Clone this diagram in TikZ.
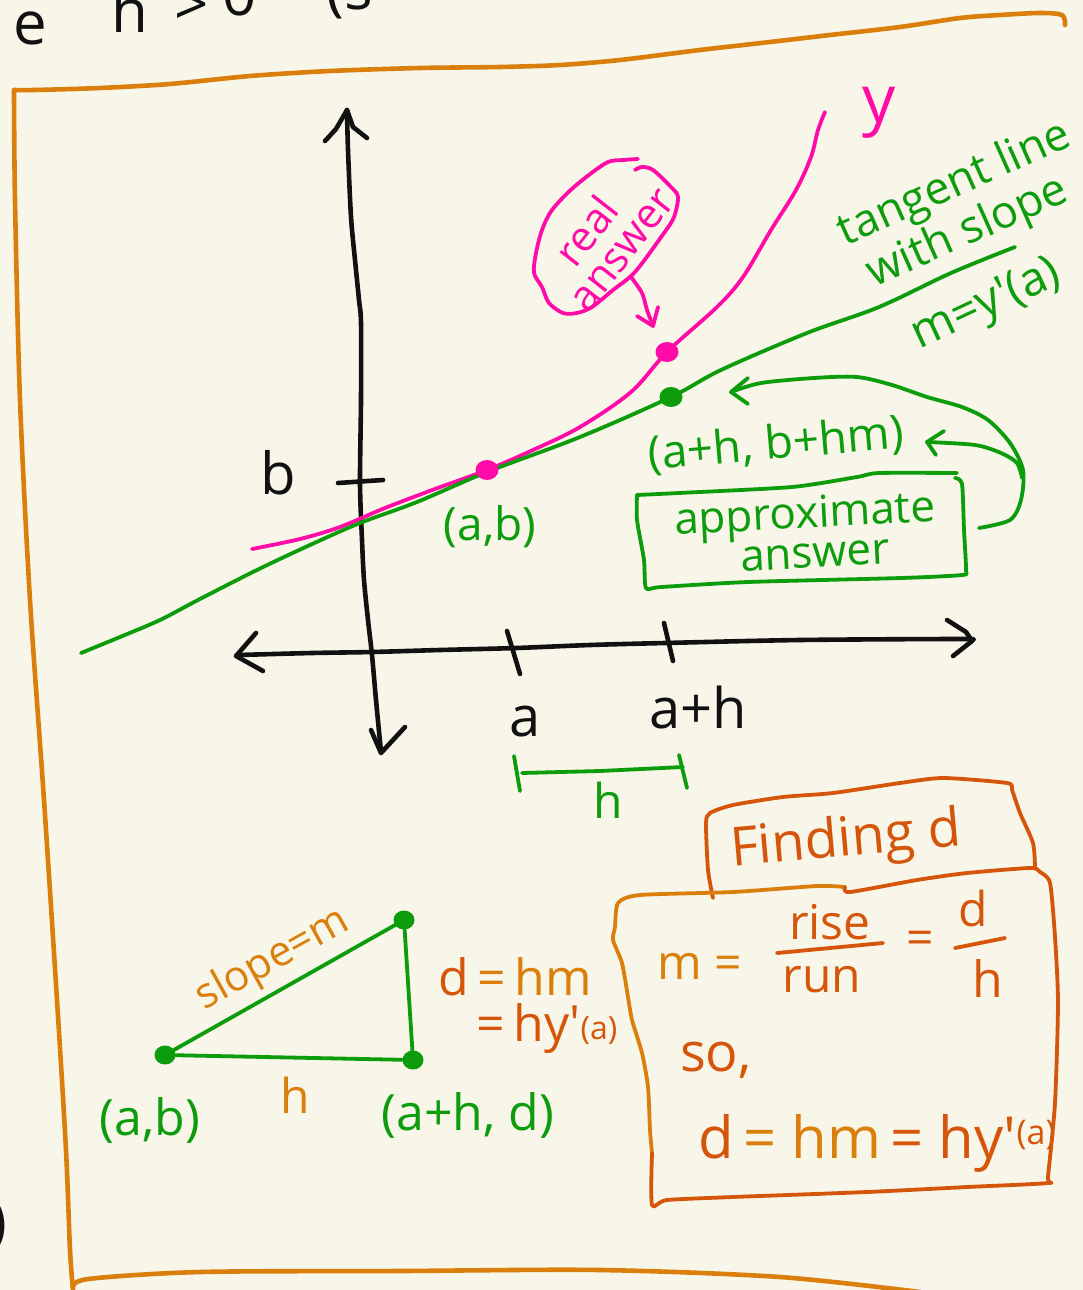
\documentclass[tikz,border=0pt]{standalone}
\usepackage{fontspec}
\setmainfont{Open Sans}
\usetikzlibrary{shapes.geometric}
\definecolor{paper}{HTML}{F8F5E9}
\definecolor{frame}{HTML}{DB7F0C}
\definecolor{rust}{HTML}{D5550B}
\definecolor{pinkc}{HTML}{FF0CA8}
\definecolor{greenc}{HTML}{0C9C0C}
\definecolor{ink}{HTML}{111111}
\newcommand{\fsz}[1]{\fontsize{#1}{#1}\selectfont}
\begin{document}
\begin{tikzpicture}[x=1pt,y=-1pt,line cap=round,line join=round,
  pen/.style={line width=3.8pt},
  heavypen/.style={line width=4.6pt},
  lbl/.style={inner sep=0pt,outer sep=0pt},
  spot/.style={ellipse,fill,inner sep=0pt,minimum width=23pt,minimum height=20pt}]
\fill[paper] (0,0) rectangle (1083,1290);
\useasboundingbox (0,0) rectangle (1083,1290);

% ---- cut-off text at top-left and left edge
\node[lbl,text=ink,font=\fsz{60},anchor=base] (t1) at (30,45) {e};
\node[lbl,text=ink,font=\fsz{60},anchor=base] (t2) at (130,33) {h};
\node[lbl,text=ink,font=\fsz{60},anchor=base] (t3) at (192,26) {>};
\node[lbl,text=ink,font=\fsz{60},anchor=base] (t4) at (240,16) {0};
\node[lbl,text=ink,font=\fsz{60},anchor=base] (t5) at (350,10) {(s};
\node[lbl,text=ink,font=\fsz{60}] (t6) at (-2,1226) {)};

% ---- orange frame
\draw[frame,heavypen] plot[smooth,tension=0.5] coordinates {(1065,25) (1062,15) (1040,13) (1000,15) (960,18) (900,27) (830,35) (770,42) (700,50) (620,60) (560,65) (500,67) (420,68) (330,71) (250,76) (170,84) (100,88) (35,90) (14,90)};
\draw[frame,heavypen] plot[smooth,tension=0.5] coordinates {(14,90) (15,200) (20,400) (30,600) (44,800) (57,1000) (66,1150) (70,1250) (73,1290)};
\draw[frame,heavypen] plot[smooth,tension=0.5] coordinates {(73,1288) (88,1279) (200,1272) (400,1271) (600,1270) (780,1277) (920,1292)};

% ---- axes
\draw[ink,heavypen] plot[smooth,tension=0.5] coordinates {(347,110) (348,150) (351,217) (355,260) (359,300) (361,323) (361,400) (360,483) (362,540) (364,580) (368,620) (372,655) (376,700) (381,752)};
\coordinate (ytip) at (347,110);
\draw[ink,heavypen] (325,141) -- (336,129) -- (ytip) -- (353,127) -- (367,138);
\coordinate (ybot) at (381,753);
\draw[ink,heavypen] (371,730) -- (ybot) -- (405,727);
\draw[ink,heavypen] plot[smooth,tension=0.5] coordinates {(238,655) (312,653) (372,652) (440,650) (516,648) (590,645) (665,643) (800,640) (959,639) (971,640)};
\coordinate (xl) at (236,656);
\coordinate (xr) at (972,641);
\draw[ink,heavypen] (256,633) -- (xl) -- (263,671);
\draw[ink,heavypen] (947,620) -- (966,632) -- (xr) -- (953,656);
\draw[ink,heavypen] (507,631) -- (520,674);
\draw[ink,heavypen] (664,623) -- (673,661);
\draw[ink,heavypen] (338,483) -- (383,480);
\node[lbl,text=ink,font=\fsz{56}] (la) at (525,722) {a};
\node[lbl,text=ink,font=\fsz{56}] (lah) at (698,707) {a+h};
\node[lbl,text=ink,font=\fsz{58}] (lb) at (278,473) {b};

% ---- curve y and tangent line
\draw[pinkc,pen] plot[smooth,tension=0.55] coordinates {(252,549) (300,539) (340,527) (385,508) (435,489) (487,470) (533,450) (580,427) (631,392) (667,352) (717,307) (743,277) (771,230) (796,190) (811,157) (818,130) (825,112)};
\draw[greenc,pen] plot[smooth,tension=0.55] coordinates {(81,653) (120,637) (160,620) (198,600) (257,570) (310,545) (360,523) (417,502) (487,472) (580,437) (671,397) (721,370) (807,333) (879,307) (951,273) (1015,247)};
\node[spot,fill=pinkc] (pab) at (487,470) {};
\node[spot,fill=pinkc] (preal) at (667,352) {};
\node[spot,fill=greenc] (gappr) at (671,397) {};
\node[lbl,text=pinkc,font=\fsz{66}] (ly) at (879,113) {y};

% ---- tangent line label
\node[lbl,text=greenc,font=\fsz{45},rotate=24] (tl1) at (955,185) {tangent line};
\node[lbl,text=greenc,font=\fsz{45},rotate=24] (tl2) at (968,233) {with slope};
\node[lbl,text=greenc,font=\fsz{47},rotate=25] (tl3) at (987,306) {m=y\textquotesingle(a)};

% ---- real answer bubble
\draw[pinkc,pen] plot[smooth,tension=0.5] coordinates {(638,159) (624,160) (606,163) (574,187) (552,210) (542,230) (536,253) (534,273) (542,287) (549,303) (563,313) (577,313) (592,307) (613,290) (635,272) (664,233) (674,217) (678,197) (671,187) (653,170) (642,167) (635,170)};
\node[lbl,text=pinkc,font=\fontsize{42}{38}\selectfont,rotate=52,align=center] (ra) at (601,242) {real\\\hspace*{14pt}answer};
\coordinate (ratail) at (631,277);
\coordinate (ratip) at (653,326);
\draw[pinkc,pen] plot[smooth,tension=0.5] coordinates {(ratail) (642,293) (647,310) (ratip)};
\draw[pinkc,pen] (637,316) -- (ratip) -- (658,307);

% ---- approximate answer
\node[lbl,text=greenc,font=\fsz{46},rotate=5] (lapp) at (776,445) {(a+h, b+hm)};
\node[lbl,text=greenc,font=\fsz{46}] (lab) at (490,527) {(a,b)};
\draw[greenc,pen] plot[smooth,tension=0.4] coordinates {(637,495) (679,493) (792,487) (857,477) (879,473) (957,473)};
\draw[greenc,pen] plot[smooth,tension=0.4] coordinates {(955,478) (962,484) (964,530) (966,570) (962,575) (901,578) (748,582) (661,587) (646,588) (644,560) (637,520) (637,495)};
\node[lbl,text=greenc,font=\fontsize{44}{40}\selectfont,rotate=3,align=center] (apx) at (806,532) {approximate\\\hspace*{16pt}answer};
\coordinate (bxr) at (979,528);
\coordinate (tipA) at (731,392);
\coordinate (tipB) at (927,442);
\draw[greenc,pen] plot[smooth,tension=0.5] coordinates {(bxr) (1010,520) (1021,500) (1023,470) (1010,443) (988,420) (962,407) (927,397) (892,385) (857,377) (814,378) (761,383) (tipA)};
\draw[greenc,pen] (748,378) -- (tipA) -- (748,404);
\draw[greenc,pen] plot[smooth,tension=0.5] coordinates {(1022,478) (1017,463) (1001,453) (975,445) (tipB)};
\draw[greenc,pen] (944,431) -- (tipB) -- (936,455);

% ---- h bracket
\draw[greenc,pen] (514,756) -- (520,791);
\draw[greenc,pen] (522,773) -- (600,771) -- (683,767);
\draw[greenc,pen] (679,755) -- (687,788);
\node[lbl,text=greenc,font=\fsz{48}] (hb) at (608,800) {h};

% ---- Finding d box
\draw[rust,pen] plot[smooth,tension=0.4] coordinates {(713,898) (708,870) (706,823) (710,813) (733,805) (783,797) (833,793) (900,783) (943,778) (1007,783) (1012,790) (1020,813) (1033,843) (1035,867)};
\node[lbl,text=rust,font=\fsz{54},rotate=5] (fd) at (846,842) {Finding d};
\draw[frame,pen] plot[smooth,tension=0.4] coordinates {(845,887) (817,886) (733,892) (640,895) (618,903) (615,927) (613,940) (622,963) (628,997) (632,1020) (642,1053) (648,1087) (650,1130) (652,1153)};
\draw[rust,pen] plot[smooth,tension=0.4] coordinates {(652,1153) (652,1205) (667,1200) (733,1197) (867,1192) (967,1187) (1048,1183) (1048,1177) (1055,1103) (1058,1003) (1055,937) (1050,883) (1040,872) (1030,868) (967,873) (917,880) (850,892) (845,887)};
\node[lbl,text=frame,font=\fsz{48}] (meq) at (700,966) {m =};
\node[lbl,text=rust,font=\fsz{48}] (rise) at (830,922) {rise};
\node[lbl,text=rust,font=\fsz{48}] (run) at (822,980) {run};
\draw[rust,pen] (777,953) -- (883,943);
\node[lbl,text=rust,font=\fsz{48}] (eq2) at (920,943) {=};
\node[lbl,text=rust,font=\fsz{48}] (dn) at (973,908) {d};
\draw[rust,pen] (955,948) -- (1005,938);
\node[lbl,text=rust,font=\fsz{50}] (hd) at (988,978) {h};
\node[lbl,text=rust,font=\fsz{54}] (so) at (716,1060) {so,};
\node[lbl,anchor=base west,font=\fsz{58}] (dres) at (698,1158) {\textcolor{rust}{d}\,\textcolor{frame}{= hm}\,\textcolor{rust}{= hy\textquotesingle\raisebox{14pt}{\fsz{34}(a)}}};

% ---- triangle
\node[spot,fill=greenc,minimum width=21pt,minimum height=19pt] (ta) at (165,1055) {};
\node[spot,fill=greenc,minimum width=21pt,minimum height=19pt] (tb) at (404,920) {};
\node[spot,fill=greenc,minimum width=21pt,minimum height=19pt] (tc) at (413,1060) {};
\draw[greenc,pen] (ta) -- (tb);
\draw[greenc,pen] (tb) -- (tc);
\draw[greenc,pen] (ta) -- (tc);
\node[lbl,text=frame,font=\fsz{42},rotate=29] (slp) at (273,960) {slope=m};
\node[lbl,text=frame,font=\fsz{48}] (th) at (295,1095) {h};
\node[lbl,text=greenc,font=\fsz{50}] (tab) at (150,1120) {(a,b)};
\node[lbl,text=greenc,font=\fsz{50}] (tahd) at (468,1115) {(a+h, d)};
\node[lbl,font=\fsz{50},align=left] (dhm) at (528,1005) {\textcolor{rust}{d}\textcolor{frame}{\,=\,hm}\\[-4pt]\hspace*{38pt}\textcolor{rust}{=\,hy\textquotesingle\raisebox{2pt}{\fsz{32}(a)}}};
\end{tikzpicture}
\end{document}
